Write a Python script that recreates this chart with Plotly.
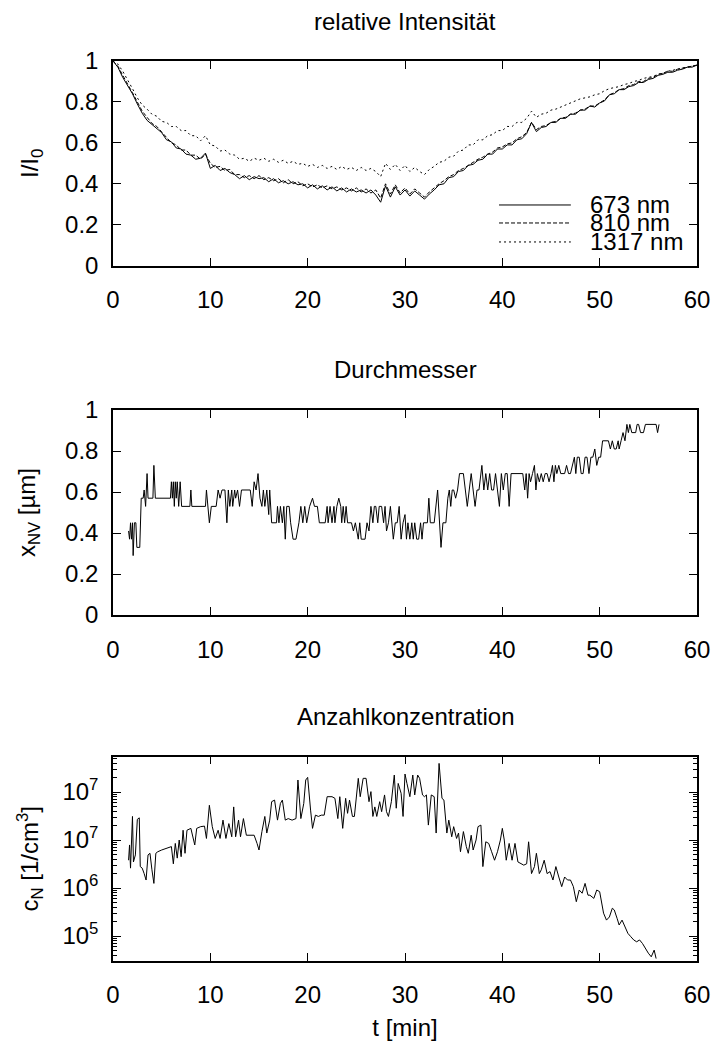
import plotly.graph_objects as go

# ---------------- data ----------------
t_int = [0, 0.5, 1, 1.5, 2, 2.5, 3, 3.5, 4, 4.5, 5, 5.5, 6, 6.5, 7, 7.5, 8, 8.5, 9, 9.5,
         10, 10.5, 11, 11.5, 12, 12.5, 13, 13.5, 14, 14.5, 15, 15.5, 16, 16.5, 17, 17.5, 18, 18.5, 19, 19.5,
         20, 20.5, 21, 21.5, 22, 22.5, 23, 23.5, 24, 24.5, 25, 25.5, 26, 26.5, 27, 27.5, 28, 28.5, 29, 29.5,
         30, 30.5, 31, 31.5, 32, 32.5, 33, 33.5, 34, 34.5, 35, 35.5, 36, 36.5, 37, 37.5, 38, 38.5, 39, 39.5,
         40, 40.5, 41, 41.5, 42, 42.5, 43, 43.5, 44, 44.5, 45, 45.5, 46, 46.5, 47, 47.5, 48, 48.5, 49, 49.5,
         50, 50.5, 51, 51.5, 52, 52.5, 53, 53.5, 54, 54.5, 55, 55.5, 56, 56.5, 57, 57.5, 58, 58.5, 59, 59.5, 60]

i_673 = [1.00, 0.97, 0.92, 0.88, 0.84, 0.79, 0.745, 0.71, 0.69, 0.67, 0.65, 0.615, 0.605, 0.575, 0.57, 0.545, 0.54, 0.52, 0.525, 0.55,
         0.475, 0.49, 0.465, 0.475, 0.455, 0.445, 0.425, 0.44, 0.42, 0.435, 0.425, 0.43, 0.41, 0.425, 0.405, 0.415, 0.40, 0.41, 0.395, 0.40,
         0.38, 0.395, 0.375, 0.39, 0.37, 0.385, 0.365, 0.38, 0.36, 0.375, 0.36, 0.37, 0.355, 0.37, 0.345, 0.31, 0.39, 0.335, 0.385, 0.345,
         0.37, 0.34, 0.365, 0.345, 0.325, 0.35, 0.37, 0.395, 0.40, 0.43, 0.435, 0.46, 0.465, 0.49, 0.495, 0.515, 0.52, 0.545, 0.545, 0.57,
         0.57, 0.59, 0.59, 0.615, 0.62, 0.645, 0.70, 0.655, 0.675, 0.68, 0.70, 0.70, 0.72, 0.72, 0.74, 0.74, 0.76, 0.76, 0.78, 0.775,
         0.795, 0.805, 0.835, 0.84, 0.86, 0.86, 0.875, 0.88, 0.895, 0.895, 0.91, 0.915, 0.93, 0.935, 0.945, 0.945, 0.955, 0.96, 0.97, 0.97, 0.98]

i_810 = [1.00, 0.975, 0.93, 0.89, 0.845, 0.80, 0.755, 0.725, 0.695, 0.68, 0.655, 0.63, 0.60, 0.59, 0.565, 0.565, 0.54, 0.54, 0.52, 0.545,
         0.50, 0.48, 0.485, 0.465, 0.47, 0.445, 0.445, 0.43, 0.44, 0.425, 0.44, 0.42, 0.43, 0.415, 0.425, 0.405, 0.42, 0.40, 0.41, 0.39,
         0.40, 0.385, 0.395, 0.38, 0.39, 0.375, 0.385, 0.37, 0.38, 0.365, 0.38, 0.36, 0.375, 0.355, 0.37, 0.33, 0.40, 0.35, 0.395, 0.355,
         0.38, 0.35, 0.375, 0.355, 0.335, 0.36, 0.38, 0.40, 0.415, 0.435, 0.445, 0.465, 0.475, 0.49, 0.505, 0.52, 0.53, 0.545, 0.555, 0.575,
         0.58, 0.595, 0.60, 0.62, 0.63, 0.65, 0.70, 0.665, 0.68, 0.685, 0.70, 0.705, 0.72, 0.725, 0.74, 0.745, 0.76, 0.765, 0.78, 0.78,
         0.795, 0.81, 0.835, 0.845, 0.86, 0.865, 0.88, 0.885, 0.90, 0.90, 0.915, 0.92, 0.935, 0.94, 0.95, 0.95, 0.96, 0.965, 0.97, 0.975, 0.98]

i_1317 = [1.00, 0.985, 0.95, 0.91, 0.865, 0.82, 0.785, 0.765, 0.74, 0.73, 0.705, 0.70, 0.68, 0.68, 0.66, 0.66, 0.635, 0.635, 0.61, 0.635,
          0.59, 0.585, 0.56, 0.565, 0.545, 0.54, 0.52, 0.525, 0.51, 0.525, 0.515, 0.525, 0.51, 0.52, 0.505, 0.515, 0.50, 0.51, 0.495, 0.50,
          0.485, 0.495, 0.48, 0.49, 0.475, 0.485, 0.47, 0.485, 0.47, 0.48, 0.465, 0.48, 0.465, 0.475, 0.46, 0.435, 0.50, 0.47, 0.495, 0.465,
          0.49, 0.46, 0.48, 0.46, 0.445, 0.47, 0.485, 0.505, 0.51, 0.53, 0.535, 0.56, 0.565, 0.59, 0.59, 0.615, 0.615, 0.635, 0.64, 0.66,
          0.66, 0.68, 0.68, 0.70, 0.70, 0.72, 0.755, 0.725, 0.74, 0.745, 0.76, 0.765, 0.775, 0.785, 0.795, 0.805, 0.815, 0.82, 0.825, 0.835,
          0.84, 0.855, 0.865, 0.87, 0.875, 0.885, 0.89, 0.90, 0.905, 0.915, 0.92, 0.925, 0.935, 0.94, 0.95, 0.955, 0.96, 0.965, 0.97, 0.975, 0.98]

t_d = [1.6, 1.7, 1.8, 1.9, 2.0, 2.07, 2.2, 2.35, 2.45, 2.75, 2.9, 3.1, 3.2, 3.35, 3.5, 3.6, 4.1, 4.2, 4.35, 5.9,
       6.0, 6.1, 6.2, 6.3, 6.4, 6.5, 6.6, 6.75, 6.9, 7.05, 7.9, 8.0, 8.1, 9.5, 9.6, 9.9, 10.1, 10.6, 10.8, 11.0,
       11.2, 11.5, 11.7, 11.85, 12.0, 12.2, 12.3, 12.5, 12.6, 12.8, 13.0, 13.2, 14.1, 14.3, 14.5, 14.7, 14.9, 15.1, 15.3, 15.45,
       15.6, 15.8, 16.0, 16.1, 16.3, 16.8, 16.9, 17.05, 17.2, 17.4, 17.55, 17.7, 17.85, 18.1, 18.25, 18.5, 18.8, 19.1, 19.3, 19.5,
       19.7, 19.9, 20.2, 20.5, 20.7, 21.0, 21.2, 21.8, 22.0, 22.1, 22.3, 22.5, 22.7, 22.8, 23.0, 23.2, 23.4, 23.5, 23.65, 23.8,
       23.95, 24.1, 24.5, 24.7, 24.9, 25.2, 25.35, 25.5, 25.9, 26.1, 26.3, 26.5, 26.7, 26.85, 27.0, 27.2, 27.35, 27.6, 27.8, 27.95,
       28.1, 28.3, 28.5, 28.8, 29.0, 29.2, 29.4, 29.6, 29.8, 30.0, 30.15, 30.3, 30.5, 30.7, 30.85, 31.0, 31.2, 31.4, 31.6, 31.75,
       31.9, 32.3, 32.45, 32.6, 33.0, 33.2, 33.35, 33.7, 33.9, 34.2, 34.4, 34.55, 34.7, 34.85, 35.0, 35.2, 35.4, 35.6, 36.0, 36.2,
       36.4, 36.6, 36.8, 37.0, 37.2, 37.4, 37.6, 37.9, 38.1, 38.3, 38.5, 38.7, 38.9, 39.1, 39.3, 39.5, 39.7, 39.9, 40.1, 40.3,
       40.5, 40.7, 40.9, 42.1, 42.3, 42.45, 42.6, 42.75, 42.9, 43.1, 43.3, 43.45, 43.6, 43.8, 44.0, 44.2, 44.4, 44.6, 44.8, 45.0,
       45.15, 45.3, 45.45, 45.6, 45.8, 46.0, 46.2, 46.4, 46.6, 46.8, 47.0, 47.2, 47.4, 47.55, 47.7, 47.9, 48.1, 48.3, 48.5, 48.7,
       48.9, 49.1, 49.3, 49.5, 49.7, 49.9, 50.1, 50.3, 50.6, 50.9, 51.1, 51.3, 51.5, 51.7, 51.9, 52.0, 52.2, 52.4, 52.6, 52.8,
       52.95, 53.1, 53.3, 53.7, 53.85, 54.0, 54.2, 54.5, 54.7, 55.8, 55.95, 56.1]

x_nv = [0.41, 0.37, 0.45, 0.37, 0.45, 0.29, 0.45, 0.45, 0.33, 0.33, 0.57, 0.57, 0.61, 0.53, 0.69, 0.57, 0.57, 0.73, 0.57, 0.57,
        0.65, 0.57, 0.65, 0.53, 0.65, 0.57, 0.65, 0.53, 0.65, 0.53, 0.53, 0.61, 0.53, 0.53, 0.61, 0.45, 0.53, 0.53, 0.61, 0.57,
        0.61, 0.61, 0.45, 0.61, 0.53, 0.61, 0.53, 0.61, 0.57, 0.61, 0.53, 0.61, 0.61, 0.53, 0.65, 0.61, 0.69, 0.57, 0.53, 0.61,
        0.53, 0.61, 0.49, 0.61, 0.45, 0.45, 0.53, 0.45, 0.53, 0.45, 0.53, 0.37, 0.53, 0.53, 0.45, 0.37, 0.37, 0.45, 0.53, 0.45,
        0.53, 0.45, 0.53, 0.57, 0.53, 0.53, 0.45, 0.45, 0.53, 0.45, 0.53, 0.45, 0.53, 0.45, 0.53, 0.57, 0.53, 0.45, 0.53, 0.45,
        0.53, 0.45, 0.45, 0.41, 0.45, 0.37, 0.45, 0.37, 0.37, 0.45, 0.41, 0.53, 0.45, 0.53, 0.53, 0.45, 0.53, 0.53, 0.45, 0.53,
        0.41, 0.45, 0.53, 0.37, 0.45, 0.45, 0.53, 0.37, 0.45, 0.49, 0.37, 0.45, 0.37, 0.45, 0.37, 0.45, 0.37, 0.37, 0.45, 0.37,
        0.45, 0.45, 0.57, 0.45, 0.45, 0.53, 0.61, 0.33, 0.45, 0.45, 0.57, 0.61, 0.53, 0.61, 0.61, 0.57, 0.61, 0.69, 0.69, 0.61,
        0.53, 0.61, 0.69, 0.61, 0.53, 0.61, 0.61, 0.73, 0.61, 0.69, 0.61, 0.69, 0.61, 0.61, 0.69, 0.61, 0.53, 0.69, 0.61, 0.69,
        0.69, 0.53, 0.69, 0.69, 0.61, 0.69, 0.57, 0.69, 0.65, 0.69, 0.73, 0.61, 0.69, 0.65, 0.69, 0.65, 0.69, 0.69, 0.65, 0.69,
        0.73, 0.65, 0.73, 0.69, 0.73, 0.69, 0.69, 0.69, 0.73, 0.69, 0.69, 0.73, 0.77, 0.69, 0.77, 0.77, 0.69, 0.69, 0.77, 0.77,
        0.69, 0.77, 0.77, 0.81, 0.73, 0.77, 0.77, 0.85, 0.85, 0.85, 0.81, 0.85, 0.81, 0.81, 0.85, 0.81, 0.85, 0.89, 0.85, 0.93,
        0.89, 0.93, 0.89, 0.89, 0.93, 0.93, 0.89, 0.89, 0.93, 0.93, 0.89, 0.93]

t_c = [1.6, 1.7, 1.8, 2.0, 2.1, 2.3, 2.5, 2.7, 2.8, 3.0, 3.2, 3.4, 3.6, 3.8, 4.0, 4.2, 4.4, 4.6, 5.0, 5.5,
       6.0, 6.2, 6.4, 6.6, 6.8, 7.0, 7.2, 7.4, 7.6, 8.0, 8.4, 8.6, 9.0, 9.4, 9.6, 9.9, 10.2, 10.5, 10.8, 11.0,
       11.3, 11.6, 11.9, 12.2, 12.4, 12.6, 12.9, 13.1, 13.4, 13.7, 14.0, 14.5, 14.8, 15.0, 15.3, 15.6, 15.8, 16.1, 16.3, 16.6,
       16.9, 17.2, 17.4, 17.7, 18.0, 18.4, 18.8, 19.0, 19.3, 19.6, 19.8, 20.0, 20.3, 20.5, 20.8, 21.1, 21.4, 21.7, 22.0, 22.5,
       22.8, 23.1, 23.3, 23.6, 23.9, 24.1, 24.3, 24.6, 24.8, 25.0, 25.2, 25.4, 25.7, 26.0, 26.3, 26.5, 26.7, 26.9, 27.1, 27.4,
       27.6, 27.9, 28.1, 28.3, 28.6, 28.9, 29.1, 29.3, 29.6, 29.8, 30.0, 30.2, 30.5, 30.8, 31.0, 31.3, 31.5, 31.8, 32.0, 32.2,
       32.4, 32.7, 33.0, 33.2, 33.5, 33.8, 34.0, 34.3, 34.5, 34.8, 35.0, 35.3, 35.5, 35.7, 36.0, 36.3, 36.5, 36.8, 37.0, 37.3,
       37.5, 37.8, 38.0, 38.3, 38.6, 38.9, 39.2, 39.5, 39.8, 40.0, 40.2, 40.4, 40.7, 41.0, 41.3, 41.6, 41.9, 42.2, 42.5, 42.7,
       43.0, 43.3, 43.5, 43.8, 44.0, 44.3, 44.6, 44.9, 45.2, 45.5, 45.8, 46.1, 46.4, 46.7, 47.0, 47.3, 47.6, 47.9, 48.2, 48.5,
       48.8, 49.0, 49.4, 49.7, 50.0, 50.2, 50.4, 50.7, 51.0, 51.3, 51.5, 51.8, 52.0, 52.3, 52.6, 52.9, 53.2, 53.5, 53.8, 54.1,
       54.4, 54.7, 55.0, 55.3, 55.6, 55.8]

c_n = [3.8e6, 7.9e6, 2.6e6, 3.1e7, 3.5e6, 4.9e6, 2.7e7, 2.9e7, 2.8e6, 2.6e6, 2.0e6, 1.47e6, 4.9e6, 5.3e6, 2.4e6, 1.25e6, 5.3e6, 5.7e6, 6.2e6, 6.7e6,
       7.3e6, 3.2e6, 8.5e6, 4.2e6, 1.0e7, 4.5e6, 1.6e7, 5.3e6, 1.6e7, 1.75e7, 7.9e6, 1.75e7, 1.9e7, 1.95e7, 1.08e7, 5.3e7, 1.9e7, 1.08e7, 1.6e7, 1.08e7,
       2.6e7, 1.08e7, 2.2e7, 1.17e7, 4.9e7, 1.17e7, 2.6e7, 1.17e7, 2.8e7, 1.26e7, 1.26e7, 1.26e7, 8.5e6, 6.2e6, 1.5e7, 3.1e7, 1.4e7, 2.6e7, 6.3e7, 6.8e7,
       2.6e7, 5.8e7, 6.8e7, 2.6e7, 2.8e7, 2.6e7, 2.8e7, 1.78e8, 2.8e7, 5.8e7, 1.78e8, 2.02e8, 4.2e7, 1.75e7, 3.3e7, 3.1e7, 3.3e7, 3.3e7, 8.0e7, 8.0e7,
       7.4e7, 2.8e7, 8.0e7, 1.75e7, 7.4e7, 3.6e7, 6.8e7, 3.1e7, 3.1e7, 8.0e7, 1.93e8, 8.0e7, 1.93e8, 1.93e8, 6.3e7, 1.02e8, 3.1e7, 4.9e7, 3.1e7, 6.3e7,
       3.9e7, 8.7e7, 3.9e7, 3.1e7, 6.3e7, 2.26e8, 4.6e7, 1.51e8, 9.4e7, 3.1e7, 2.37e8, 1.51e8, 8.0e7, 2.26e8, 8.7e7, 2.26e8, 1.93e8, 8.7e7, 8.0e7, 8.7e7,
       2.05e7, 8.7e7, 8.0e7, 1.4e7, 3.95e8, 7.4e7, 6.8e7, 1.4e7, 2.6e7, 1.17e7, 1.9e7, 1.08e7, 1.4e7, 5.7e6, 1.5e7, 7.3e6, 5.3e6, 1.26e7, 6.2e6, 1.0e7,
       1.9e7, 2.05e7, 2.8e6, 9.2e6, 8.5e6, 5.7e6, 3.8e6, 5.7e6, 1.0e7, 1.75e7, 1.0e7, 3.8e6, 8.5e6, 3.8e6, 8.5e6, 3.5e6, 3.2e6, 3.0e6, 3.2e6, 9.2e6,
       2.0e6, 2.8e6, 5.3e6, 2.0e6, 2.4e6, 3.8e6, 2.0e6, 2.2e6, 1.47e6, 2.8e6, 1.7e6, 1.07e6, 1.7e6, 1.47e6, 1.47e6, 1.07e6, 5.2e5, 9.1e5, 7.8e5, 1.25e6,
       7.1e5, 7.1e5, 6.1e5, 9.1e5, 8.4e5, 5.2e5, 3.0e5, 2.15e5, 2.5e5, 3.8e5, 3.5e5, 2.3e5, 1.7e5, 2.15e5, 1.56e5, 1.14e5, 9.7e4, 8.3e4, 7.6e4, 8.3e4,
       7.0e4, 5.5e4, 4.4e4, 3.7e4, 5.1e4, 3.4e4]

x_ticks = [0, 10, 20, 30, 40, 50, 60]
lin_ticks = [0, 0.2, 0.4, 0.6, 0.8, 1]
lin_ticklabels = ["0", "0.2", "0.4", "0.6", "0.8", "1"]
log_ticks = [1e5, 1e6, 1e7, 1e8]
log_ticklabels = ["10<sup>5</sup>", "10<sup>6</sup>", "10<sup>7</sup>", "10<sup>7</sup>"]
legend_names = ["673 nm", "810 nm", "1317 nm"]

# ---------------- figure ----------------
FONT = "Liberation Sans, Arial, Helvetica, sans-serif"
FS = 24
fig = go.Figure()

series = [(i_673, "solid"), (i_810, "4px,2px"), (i_1317, "2px,3px")]
for (vals, dash), name in zip(series, legend_names):
    fig.add_trace(go.Scatter(x=t_int, y=vals, mode="lines", name=name,
                             line=dict(color="black", width=1, dash=dash),
                             xaxis="x", yaxis="y", showlegend=False))

fig.add_trace(go.Scatter(x=t_d, y=x_nv, mode="lines", name="Durchmesser",
                         line=dict(color="black", width=1), xaxis="x2", yaxis="y2", showlegend=False))
fig.add_trace(go.Scatter(x=t_c, y=c_n, mode="lines", name="Anzahlkonzentration",
                         line=dict(color="black", width=1), xaxis="x3", yaxis="y3", showlegend=False))

common_x = dict(range=[0, 60], tickvals=x_ticks, ticks="inside", ticklen=8, tickwidth=1.2,
                tickcolor="black", showline=True, linecolor="black", linewidth=1.5, mirror="ticks",
                showgrid=False, zeroline=False, tickfont=dict(family=FONT, size=FS, color="black"),
                ticklabelstandoff=12, automargin=False)
common_y = dict(ticks="inside", ticklen=8, tickwidth=1.2, tickcolor="black", showline=True,
                linecolor="black", linewidth=1.5, mirror="ticks", showgrid=False, zeroline=False,
                tickfont=dict(family=FONT, size=FS, color="black"), ticklabelstandoff=8,
                automargin=False)

doms = [[0.7448, 0.9414], [0.4092, 0.6061], [0.0771, 0.2731]]

minor_vals = [k * 10 ** d for d in range(4, 9) for k in range(2, 10)]

fig.update_layout(
    width=718, height=1041,
    margin=dict(l=113, r=21, t=0, b=0),
    paper_bgcolor="white", plot_bgcolor="white",
    font=dict(family=FONT, size=FS, color="black"),
    xaxis=dict(common_x, anchor="y", domain=[0, 1]),
    yaxis=dict(common_y, anchor="x", domain=doms[0], range=[0, 1], tickvals=lin_ticks,
               ticktext=lin_ticklabels,
               title=dict(text="I/I<sub>0</sub>", font=dict(family=FONT, size=FS), standoff=20)),
    xaxis2=dict(common_x, anchor="y2", domain=[0, 1]),
    yaxis2=dict(common_y, anchor="x2", domain=doms[1], range=[0, 1], tickvals=lin_ticks,
                ticktext=lin_ticklabels,
                title=dict(text="x<sub>NV</sub> [µm]", font=dict(family=FONT, size=FS), standoff=23)),
    xaxis3=dict(common_x, anchor="y3", domain=[0, 1],
                title=dict(text="t [min]", font=dict(family=FONT, size=FS), standoff=14)),
    yaxis3=dict(common_y, anchor="x3", domain=doms[2], type="log", range=[4.486, 8.736],
                tickvals=log_ticks, ticktext=log_ticklabels,
                minor=dict(tickvals=minor_vals, ticks="inside", ticklen=4, tickcolor="black", tickwidth=1),
                title=dict(text="c<sub>N</sub> [1/cm<sup>3</sup>]", font=dict(family=FONT, size=FS), standoff=17)),
)

titles = [("relative Intensität", 0.979), ("Durchmesser", 0.6446), ("Anzahlkonzentration", 0.3113)]
for text, y in titles:
    fig.add_annotation(text=text, x=0.5, y=y, xref="paper", yref="paper", xanchor="center",
                       yanchor="middle", showarrow=False, font=dict(family=FONT, size=FS, color="black"))

# key for the top panel
key_y = [0.2965, 0.2086, 0.1158]
for (vals, dash), name, ky in zip(series, legend_names, key_y):
    fig.add_shape(type="line", xref="x domain", yref="y domain", x0=0.661, x1=0.784, y0=ky, y1=ky,
                  line=dict(color="black", width=1, dash=dash))
    fig.add_annotation(text=name, xref="x domain", yref="y domain", x=0.813, y=ky, xanchor="left",
                       yanchor="middle", showarrow=False, font=dict(family=FONT, size=FS, color="black"))

fig.write_html("out.html")
